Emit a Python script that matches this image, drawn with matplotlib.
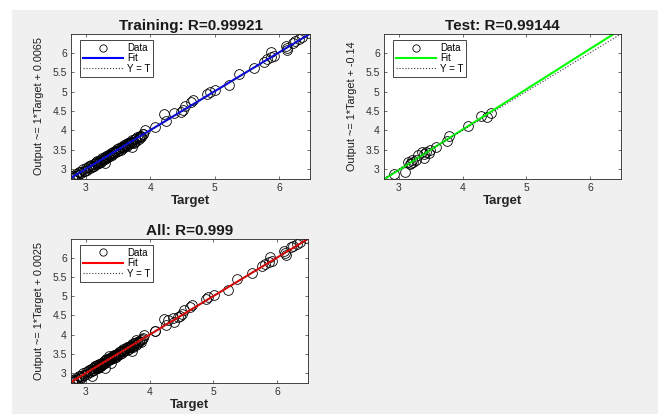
import numpy as np
import matplotlib.pyplot as plt
from matplotlib.patches import Rectangle

plt.rcParams['font.family'] = ['Liberation Sans', 'DejaVu Sans']

# training targets / outputs
train_t = [2.78, 2.80, 2.82, 2.85, 2.88, 2.90, 2.93, 2.95, 2.97, 3.00, 3.02, 3.04, 3.06, 3.08,
           3.10, 3.12, 3.13, 3.15, 3.17, 3.18, 3.20, 3.22, 3.24, 3.25, 3.27, 3.29, 3.30, 3.32,
           3.34, 3.35, 3.37, 3.39, 3.40, 3.42, 3.44, 3.45, 3.47, 3.49, 3.50, 3.52, 3.54, 3.55,
           3.57, 3.59, 3.60, 3.62, 3.64, 3.65, 3.67, 3.69, 3.70, 3.72, 3.74, 3.76, 3.78, 3.80,
           3.82, 3.84, 3.86, 3.88,
           2.84, 2.91, 2.98, 3.05, 3.11, 3.16, 3.21, 3.26, 3.31, 3.36, 3.41, 3.46, 3.51, 3.56,
           3.61, 3.66, 3.71, 3.77, 3.83, 3.30,
           3.72, 3.74, 3.86, 3.89, 3.92, 4.08, 4.25, 4.22, 4.37, 4.47, 4.51, 4.54, 4.63, 4.66,
           4.88, 4.92, 5.01, 5.22, 5.37, 5.61, 5.76, 5.81, 5.87, 5.92, 5.88, 6.10, 6.13, 6.12,
           6.22, 6.25, 6.31, 6.36, 6.45]
train_o = [2.77, 2.82, 2.80, 2.87, 2.86, 2.93, 2.90, 3.02, 2.96, 3.04, 2.99, 3.07, 3.03, 3.10,
           3.06, 3.14, 3.09, 3.18, 3.14, 3.21, 3.17, 3.25, 3.20, 3.28, 3.24, 3.31, 3.27, 3.35,
           3.31, 3.38, 3.34, 3.42, 3.37, 3.45, 3.41, 3.48, 3.44, 3.51, 3.47, 3.55, 3.50, 3.58,
           3.54, 3.62, 3.57, 3.64, 3.61, 3.68, 3.64, 3.71, 3.67, 3.75, 3.71, 3.78, 3.74, 3.82,
           3.79, 3.85, 3.82, 3.90,
           2.83, 2.92, 2.95, 3.08, 3.09, 3.17, 3.19, 3.27, 3.30, 3.37, 3.40, 3.47, 3.50, 3.57,
           3.60, 3.67, 3.69, 3.78, 3.84, 3.15,
           3.58, 3.67, 3.86, 3.91, 4.00, 4.10, 4.25, 4.42, 4.44, 4.48, 4.53, 4.63, 4.73, 4.78,
           4.93, 4.99, 5.04, 5.16, 5.45, 5.61, 5.77, 5.83, 5.88, 5.91, 6.01, 6.17, 6.07, 6.11,
           6.26, 6.31, 6.34, 6.39, 6.50]

# test targets / outputs
test_t = [2.93, 3.10, 3.15, 3.17, 3.19, 3.21, 3.23, 3.27, 3.31, 3.36, 3.39, 3.40, 3.43, 3.48,
          3.49, 3.58, 3.75, 3.79, 4.08, 4.29, 4.38, 4.45]
test_o = [2.88, 2.94, 3.18, 3.13, 3.15, 3.24, 3.18, 3.24, 3.37, 3.45, 3.39, 3.28, 3.45, 3.43,
          3.50, 3.58, 3.74, 3.86, 4.11, 4.37, 4.34, 4.46]

all_t = train_t + test_t
all_o = train_o + test_o

# fit line coefficients (slope, intercept)
fit_train = (1.0, 0.0065)
fit_test = (1.04, -0.14)
fit_all = (1.0, 0.0025)

lims = (2.77, 6.48)

fig = plt.figure(figsize=(6.62, 4.16), dpi=100)
fig.patch.set_facecolor('white')
fig.patches.append(Rectangle((12 / 662, 1 - 414 / 416), 646 / 662, 404 / 416,
                             transform=fig.transFigure, facecolor='#f0f0f0',
                             edgecolor='none', zorder=-10))

panels = [
    ([0.1073, 0.5697, 0.361, 0.3486], train_t, train_o, fit_train, 'blue',
     'Training: R=0.99921', 'Output ~= 1*Target + 0.0065'),
    ([0.580, 0.5697, 0.358, 0.3486], test_t, test_o, fit_test, '#00ff00',
     'Test: R=0.99144', 'Output ~= 1*Target + -0.14'),
    ([0.1073, 0.0793, 0.358, 0.3462], all_t, all_o, fit_all, 'red',
     'All: R=0.999', 'Output ~= 1*Target + 0.0025'),
]

for pos, t, o, fit, col, title, ylab in panels:
    ax = fig.add_axes(pos)
    ax.set_facecolor('white')
    xs = np.array(lims)
    ax.plot(t, o, 'o', mfc='none', mec='black', ms=7, mew=0.6, label='Data')
    ax.plot(xs, fit[0] * xs + fit[1], color=col, lw=1.5, label='Fit')
    ax.plot(xs, xs, ':', color='#333333', lw=0.8, label='Y = T')
    ax.set_xlim(lims)
    ax.set_ylim(2.75, 6.48)
    ax.set_xticks([3, 4, 5, 6])
    ax.set_yticks([3, 3.5, 4, 4.5, 5, 5.5, 6])
    ax.set_yticklabels(['3', '3.5', '4', '4.5', '5', '5.5', '6'])
    ax.tick_params(direction='in', length=2.5, width=0.5, labelsize=7.5,
                   colors='#333333', top=True, right=True, pad=3)
    for s in ax.spines.values():
        s.set_color('#262626')
        s.set_linewidth(0.6)
    ax.set_title(title, fontsize=11, fontweight='bold', color='#1a1a1a', pad=3)
    ax.set_xlabel('Target', fontsize=9.5, fontweight='bold', color='#262626', labelpad=1)
    ax.set_ylabel(ylab, fontsize=7.8, color='#1a1a1a', labelpad=6)
    leg = ax.legend(loc='upper left', bbox_to_anchor=(9 / 239, 1 - 6 / 145),
                    borderaxespad=0, fontsize=7, handlelength=4.1, borderpad=0.3,
                    labelspacing=0.05, handletextpad=0.45, markerscale=0.75,
                    fancybox=False, edgecolor='#262626', framealpha=1)
    leg.get_frame().set_linewidth(0.6)

fig.savefig('out.png', dpi=100, facecolor=fig.get_facecolor())
